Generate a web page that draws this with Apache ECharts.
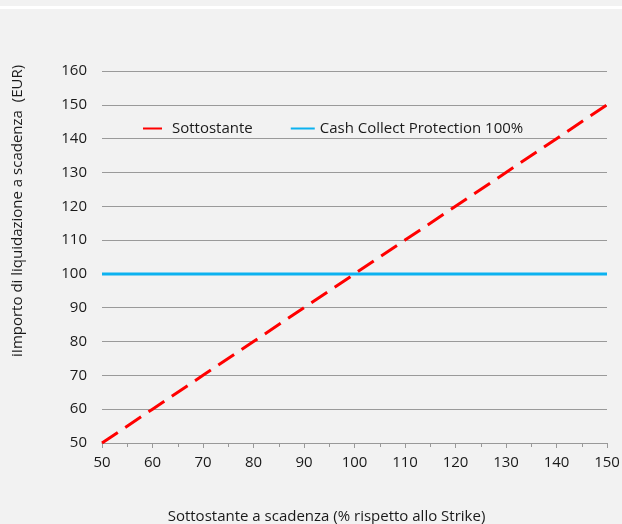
<!DOCTYPE html>
<html>
<head>
<meta charset="utf-8">
<script src="https://cdn.jsdelivr.net/npm/echarts@6/dist/echarts.min.js"></script>
<style>
  html, body { margin: 0; padding: 0; background: #f2f2f2; }
  #container { width: 622px; height: 524px; }
</style>
</head>
<body>
<div id="container"></div>
<script>
// strike levels (% of strike) and payoff at maturity
const strikeLevels = [50, 60, 70, 80, 90, 100, 110, 120, 130, 140, 150];
const underlyingValues = [50, 60, 70, 80, 90, 100, 110, 120, 130, 140, 150];
const protectionValues = [100, 100, 100, 100, 100, 100, 100, 100, 100, 100, 100];
const seriesNames = ['Sottostante', 'Cash Collect Protection 100%'];

const font = 'Open Sans';

var dom = document.getElementById('container');
var myChart = echarts.init(dom, null, { renderer: 'canvas' });

var option = {
    backgroundColor: '#f2f2f2',
    animation: false,
    graphic: [{
        type: 'rect',
        left: 0,
        top: 6,
        shape: { width: 622, height: 3 },
        style: { fill: '#ffffff' }
    }],
    legend: {
        left: 137,
        top: 116,
        itemWidth: 24,
        itemHeight: 3,
        itemGap: 37,
        itemStyle: { opacity: 0 },
        textStyle: { fontFamily: font, fontSize: 15, color: '#1a1a1a' },
        data: seriesNames
    },
    grid: {
        left: 102,
        right: 15,
        top: 71,
        bottom: 81,
        outerBoundsMode: 'none'
    },
    xAxis: {
        type: 'value',
        min: 50,
        max: 150,
        interval: 10,
        name: 'Sottostante a scadenza (% rispetto allo Strike)',
        nameLocation: 'middle',
        nameGap: 66,
        nameTextStyle: { fontFamily: font, fontSize: 15, color: '#1a1a1a', padding: [0, 56, 0, 0] },
        axisLine: { lineStyle: { color: '#999', width: 1 } },
        axisTick: { length: 5, lineStyle: { color: '#999' } },
        minorTick: { show: true, splitNumber: 2, length: 4, lineStyle: { color: '#999' } },
        axisLabel: { fontFamily: font, fontSize: 15, color: '#1a1a1a', margin: 12 },
        splitLine: { show: false }
    },
    yAxis: {
        type: 'value',
        min: 50,
        max: 160,
        interval: 10,
        name: 'iImporto di liquidazione a scadenza  (EUR)',
        nameLocation: 'middle',
        nameGap: 77,
        nameTextStyle: { fontFamily: font, fontSize: 15, color: '#1a1a1a', padding: [0, 0, 0, 92] },
        axisLine: { show: false },
        axisTick: { show: false },
        axisLabel: { fontFamily: font, fontSize: 15, color: '#1a1a1a', margin: 15 },
        splitLine: { lineStyle: { color: '#9a9a9a', width: 1 } }
    },
    series: [{
        name: seriesNames[0],
        type: 'line',
        symbol: 'none',
        color: '#ff0000',
        lineStyle: { color: '#ff0000', width: 3, type: [19, 9] },
        data: strikeLevels.map((x, i) => [x, underlyingValues[i]]),
        z: 3
    }, {
        name: seriesNames[1],
        type: 'line',
        symbol: 'none',
        color: '#0cb2f0',
        lineStyle: { color: '#0cb2f0', width: 3 },
        data: strikeLevels.map((x, i) => [x, protectionValues[i]]),
        z: 2
    }]
};

myChart.setOption(option);
window.addEventListener('resize', myChart.resize);
</script>
</body>
</html>
